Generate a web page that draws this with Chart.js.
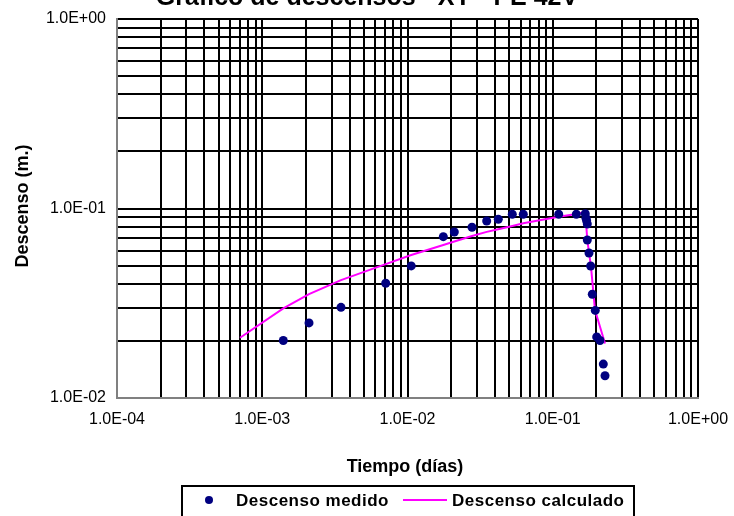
<!DOCTYPE html>
<html><head><meta charset="utf-8">
<script src="https://cdn.jsdelivr.net/npm/chart.js@4.4.1/dist/chart.umd.min.js"></script>
<style>html,body{margin:0;padding:0;background:#fff;overflow:hidden}canvas{display:block}</style>
</head><body>
<canvas id="c" width="734" height="516"></canvas>
<script>
const titleText = 'Gráfico de descensos - XY - PE 42V';
const xAxisTitle = 'Tiempo (días)';
const yAxisTitle = 'Descenso (m.)';
const seriesNames = ['Descenso medido', 'Descenso calculado'];
const xTickLabels = ['1.0E-04', '1.0E-03', '1.0E-02', '1.0E-01', '1.0E+00'];
const yTickLabels = ['1.0E-02', '1.0E-01', '1.0E+00'];

// Descenso medido (time in days, drawdown in m)
const medidoT = [0.001396, 0.002099, 0.003484, 0.007078, 0.01061, 0.01764, 0.02100, 0.02780, 0.03509, 0.04218,
  0.05266, 0.06268, 0.1099, 0.1453, 0.1675, 0.1693, 0.1711, 0.1729, 0.1729, 0.1776,
  0.1824, 0.1872, 0.1963, 0.2007, 0.2115, 0.2229, 0.2290];
const medidoS = [0.0201, 0.0249, 0.0301, 0.0403, 0.0498, 0.0710, 0.0752, 0.0796, 0.0859, 0.0877,
  0.0932, 0.0932, 0.0932, 0.0932, 0.0939, 0.0888, 0.0862, 0.0828, 0.0682, 0.0582,
  0.0497, 0.0353, 0.0290, 0.0210, 0.0201, 0.0151, 0.0131];

// Descenso calculado
const calcT = [0.000703, 0.001396, 0.002099, 0.003484, 0.007078, 0.01061, 0.01764, 0.02100, 0.02780, 0.03509,
  0.04218, 0.05266, 0.06268, 0.1099, 0.1453, 0.1675, 0.1729, 0.1833, 0.1954, 0.2290];
const calcS = [0.0208, 0.0297, 0.0353, 0.0419, 0.0509, 0.0568, 0.0642, 0.0670, 0.0716, 0.0753,
  0.0777, 0.0808, 0.0835, 0.0905, 0.0935, 0.0962, 0.0682, 0.0493, 0.0291, 0.0194];

const FONT = "'Liberation Sans', Arial, sans-serif";
Chart.defaults.font.family = FONT;
Chart.defaults.color = '#000';

function decadeGrid(labels) {
  const majors = labels.map(l => parseFloat(l));
  const vals = [];
  for (let i = 0; i < majors.length - 1; i++) {
    for (let k = 1; k <= 9; k++) vals.push(k * majors[i]);
  }
  vals.push(majors[majors.length - 1]);
  return { majors, vals };
}
const xg = decadeGrid(xTickLabels);
const yg = decadeGrid(yTickLabels);

function labelFor(g, labels) {
  return v => {
    const i = g.majors.findIndex(p => Math.abs(p - v) / p < 1e-6);
    return i >= 0 ? labels[i] : '';
  };
}

const medidoData = medidoT.map((t, i) => ({ x: t, y: medidoS[i] }));
const calcData = calcT.map((t, i) => ({ x: t, y: calcS[i] }));

const decor = {
  id: 'decor',
  afterDraw(chart) {
    const ctx = chart.ctx;
    ctx.save();
    ctx.fillStyle = '#000';
    // title (partly cut at the top, as in the reference)
    ctx.font = 'bold 25px ' + FONT;
    ctx.textAlign = 'center';
    ctx.textBaseline = 'alphabetic';
    ctx.fillText(titleText, 367, 5);
    // x axis title
    ctx.font = 'bold 18px ' + FONT;
    ctx.fillText(xAxisTitle, 405, 472);
    // y axis title
    ctx.save();
    ctx.translate(28, 206);
    ctx.rotate(-Math.PI / 2);
    ctx.fillText(yAxisTitle, 0, 0);
    ctx.restore();
    // legend
    ctx.strokeStyle = '#000';
    ctx.lineWidth = 2;
    ctx.strokeRect(182, 486, 452, 40);
    ctx.fillStyle = '#000080';
    ctx.beginPath();
    ctx.arc(209, 500, 4, 0, Math.PI * 2);
    ctx.fill();
    ctx.strokeStyle = '#FF00FF';
    ctx.beginPath();
    ctx.moveTo(403, 500);
    ctx.lineTo(447, 500);
    ctx.stroke();
    ctx.fillStyle = '#000';
    ctx.font = 'bold 17px ' + FONT;
    ctx.textAlign = 'left';
    ctx.letterSpacing = '0.5px';
    ctx.fillText(seriesNames[0], 236, 506);
    ctx.fillText(seriesNames[1], 452, 506);
    ctx.restore();
  }
};

new Chart(document.getElementById('c'), {
  type: 'scatter',
  data: {
    datasets: [
      { label: seriesNames[0], data: medidoData, showLine: false, pointRadius: 4.5, pointHoverRadius: 4.5,
        backgroundColor: '#000080', borderColor: '#000080', borderWidth: 0, order: 0 },
      { label: seriesNames[1], data: calcData, showLine: true, pointRadius: 0, borderColor: '#FF00FF',
        backgroundColor: '#FF00FF', borderWidth: 2, tension: 0, order: 1 }
    ]
  },
  options: {
    responsive: false,
    animation: false,
    devicePixelRatio: 1,
    layout: { padding: { left: 0, top: 19, right: 36, bottom: 0 } },
    plugins: { legend: { display: false }, title: { display: false }, tooltip: { enabled: false } },
    scales: {
      x: {
        type: 'logarithmic', min: xg.majors[0], max: xg.majors[xg.majors.length - 1],
        afterBuildTicks: s => { s.ticks = xg.vals.map(v => ({ value: v })); },
        afterFit: s => { s.height = 118; s.paddingLeft = 0; s.paddingRight = 0; },
        ticks: { autoSkip: false, maxRotation: 0, minRotation: 0, padding: 12, font: { size: 16 }, color: '#000',
          callback: labelFor(xg, xTickLabels) },
        grid: { drawTicks: false, lineWidth: 2, color: c => c.index === 0 ? 'rgba(0,0,0,0)' : '#000' },
        border: { display: true, color: '#808080', width: 2 }
      },
      y: {
        type: 'logarithmic', min: yg.majors[0], max: yg.majors[yg.majors.length - 1],
        afterBuildTicks: s => { s.ticks = yg.vals.map(v => ({ value: v })); },
        afterFit: s => { s.width = 117; s.paddingTop = 0; s.paddingBottom = 0; },
        ticks: { autoSkip: false, padding: 11, font: { size: 16 }, color: '#000',
          callback: labelFor(yg, yTickLabels) },
        grid: { drawTicks: false, lineWidth: 2, color: c => c.index === 0 ? 'rgba(0,0,0,0)' : '#000' },
        border: { display: true, color: '#808080', width: 2 }
      }
    }
  },
  plugins: [decor]
});
</script>
</body></html>
